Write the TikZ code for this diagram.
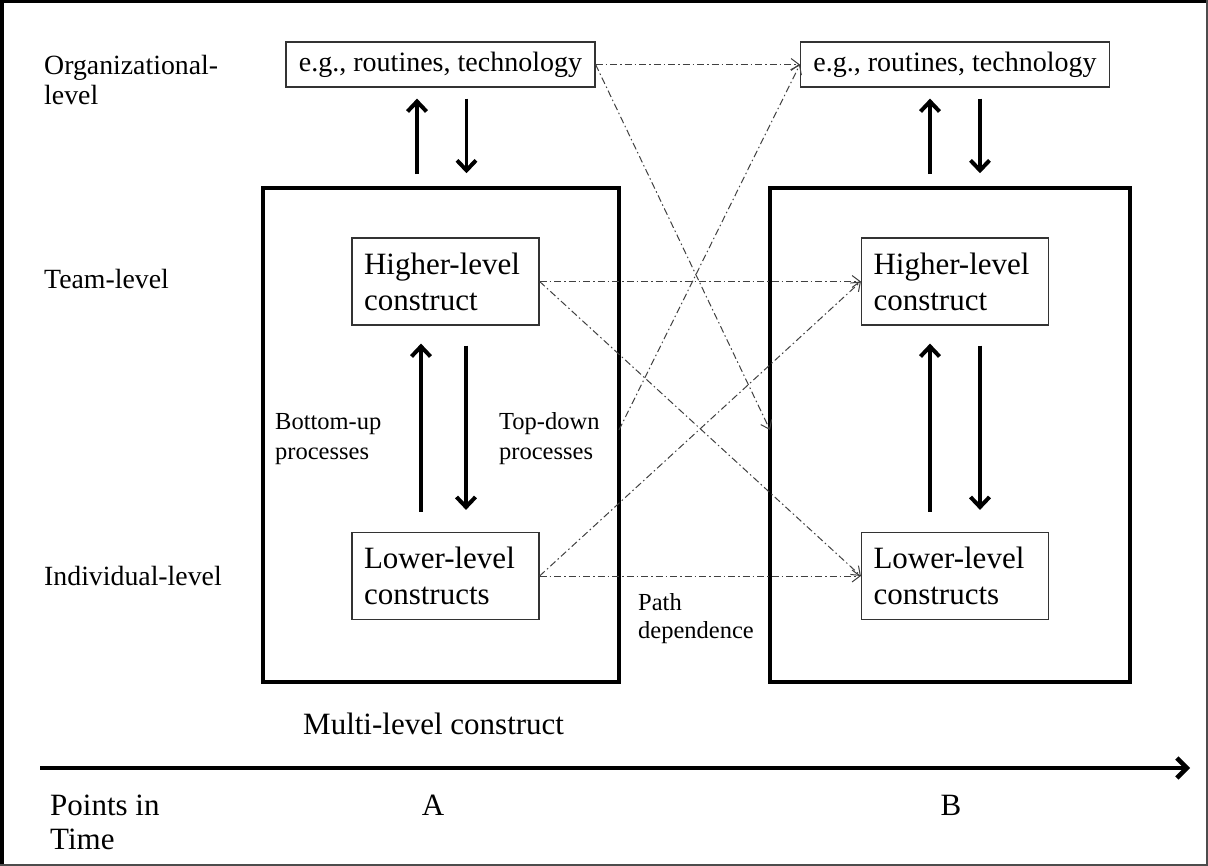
\documentclass[tikz,border=0pt]{standalone}
\usepackage{fontspec}
\setmainfont{Liberation Serif}
\usetikzlibrary{arrows.meta}
\begin{document}
\begin{tikzpicture}[x=1pt,y=-1pt,
  lbl/.style={anchor=base west, inner sep=0, align=left, font=\fontsize{27.8}{30}\selectfont},
  biglbl/.style={anchor=base west, inner sep=0, align=left, font=\fontsize{31}{34}\selectfont},
  smalllbl/.style={anchor=base west, inner sep=0, align=left, font=\fontsize{24.5}{30}\selectfont},
  orgbox/.style={draw=black!80, line width=1.2, minimum width=309, minimum height=45, inner sep=0,
    font=\fontsize{28}{32}\selectfont},
  levelbox/.style={draw=black!80, line width=1.2, minimum width=187, minimum height=87, inner sep=0,
    font=\fontsize{31}{36}\selectfont},
  multibox/.style={draw=black, line width=3.5, minimum width=356, minimum height=494, inner sep=0},
  flow/.style={line width=3.5, -{Straight Barb[length=10pt,width=19pt,line width=4pt]}},
  carry/.style={draw=black!75, line width=1, dash pattern=on 7pt off 3pt on 1.5pt off 3pt,
    -{Straight Barb[length=8pt,width=12pt,line width=1pt]}},
  timeline/.style={line width=4, -{Straight Barb[length=10pt,width=20pt,line width=4.5pt]}}
]
\useasboundingbox (0,0) rectangle (1208,866);
% outer frame
\draw[line width=3.5] (1.75,866) -- (1.75,1.75) -- (1208,1.75);
\draw[line width=1.5, black!70] (1207,0) -- (1207,865.2) -- (0,865.2);

% level labels (multi-line labels are placed by their last baseline)
\node[lbl] (lOrg) at (44,105) {Organizational-\\level};
\node[lbl] (lTeam) at (44,289) {Team-level};
\node[lbl] (lInd) at (44,585) {Individual-level};
\node[biglbl] (lTime) at (50,849) {Points in\\Time};

% point in time A
\node[orgbox] (topA) at (440.5,64.5) {e.g., routines, technology};
\node[multibox] (bigA) at (441,435) {};
\node[levelbox] (hA) at (445.5,281.5) {\parbox{163pt}{Higher-level\\construct}};
\node[levelbox] (lA) at (445.5,576) {\parbox{163pt}{Lower-level\\constructs}};

% point in time B
\node[orgbox] (topB) at (955,64.5) {e.g., routines, technology};
\node[multibox, minimum width=360] (bigB) at (950,435) {};
\node[levelbox] (hB) at (955,281.5) {\parbox{163pt}{Higher-level\\construct}};
\node[levelbox] (lB) at (955,576) {\parbox{163pt}{Lower-level\\constructs}};

% emergence and top-down influence between levels
\draw[flow, shorten <=12pt, shorten >=11pt] ([xshift=-24pt]bigA.north) -- ([xshift=-24pt]bigA.north |- topA.south);
\draw[flow, shorten <=11pt, shorten >=13pt] ([xshift=26pt]topA.south) -- ([xshift=26pt]topA.south |- bigA.north);
\draw[flow, shorten <=20pt, shorten >=18pt] ([xshift=-24.5pt]lA.north) -- ([xshift=-24.5pt]lA.north |- hA.south);
\draw[flow, shorten <=20pt, shorten >=22pt] ([xshift=20.5pt]hA.south) -- ([xshift=20.5pt]hA.south |- lA.north);

\draw[flow, shorten <=12pt, shorten >=11pt] ([xshift=-20pt]bigB.north) -- ([xshift=-20pt]bigB.north |- topB.south);
\draw[flow, shorten <=11pt, shorten >=13pt] ([xshift=25pt]topB.south) -- ([xshift=25pt]topB.south |- bigB.north);
\draw[flow, shorten <=20pt, shorten >=18pt] ([xshift=-25pt]lB.north) -- ([xshift=-25pt]lB.north |- hB.south);
\draw[flow, shorten <=20pt, shorten >=22pt] ([xshift=25pt]hB.south) -- ([xshift=25pt]hB.south |- lB.north);

\node[smalllbl] (bu) at (275,460) {Bottom-up\\processes};
\node[smalllbl] (td) at (499,460) {Top-down\\processes};

% path dependence from A to B
\coordinate (aSide) at (619,430);
\coordinate (bSide) at (770,430);
\draw[carry] (topA.east) -- (topB.west);
\draw[carry] (topA.east) -- (bSide);
\draw[carry] (aSide) -- (topB.west);
\draw[carry] (hA.east) -- (hB.west);
\draw[carry] (hA.east) -- (lB.west);
\draw[carry] (lA.east) -- (hB.west);
\draw[carry] (lA.east) -- (lB.west);
\node[smalllbl, font=\fontsize{24.5}{28}\selectfont] (pd) at (638,638) {Path\\dependence};

\node[biglbl] (mlc) at (303,734) {Multi-level construct};

% time axis
\coordinate (t0) at (40,768);
\coordinate (t1) at (1190,768);
\draw[timeline] (t0) -- (t1);
\node[biglbl, anchor=base] (ptA) at (433,815) {A};
\node[biglbl, anchor=base] (ptB) at (951,815) {B};
\end{tikzpicture}
\end{document}
